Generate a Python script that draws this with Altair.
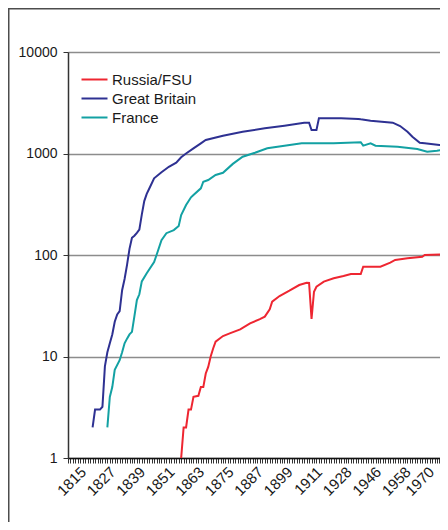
import altair as alt
import pandas as pd

# ---- categories on the x axis (yearly, with the war-time gaps) ----
years = list(range(1815, 1914)) + list(range(1919, 1940)) + list(range(1946, 1991))
tick_labels = [str(y) for y in years[::12]]

series_names = ["Russia/FSU", "Great Britain", "France"]
series_colors = ["#ee2631", "#2e3192", "#13a1a3"]

gb_years = [1825, 1826, 1828, 1829, 1830, 1831, 1832, 1833, 1834, 1835, 1836, 1837, 1838, 1839,
            1840, 1841, 1842, 1843, 1844, 1845, 1846, 1847, 1848, 1850, 1853, 1856, 1859, 1861,
            1863, 1866, 1869, 1871, 1878, 1886, 1895, 1903, 1911, 1913, 1919, 1920, 1921, 1922,
            1931, 1938, 1939, 1949, 1958, 1961, 1964, 1966, 1969, 1971, 1977, 1980, 1981]
gb_values = [2, 3, 3, 3.2, 8, 11, 13.5, 16.5, 22, 26, 28, 45, 58, 80,
             115, 148, 155, 165, 178, 250, 340, 400, 450, 570, 653, 740, 811, 917,
             1000, 1125, 1260, 1358, 1497, 1640, 1770, 1880, 2012, 2012, 1705, 1705, 1705, 2222,
             2222, 2190, 2170, 2105, 2012, 1866, 1640, 1465, 1277, 1260, 1213, 1186, 1180]

fr_years = [1831, 1832, 1833, 1834, 1836, 1837, 1838, 1839, 1840, 1841, 1842, 1843, 1844, 1845,
            1847, 1850, 1851, 1853, 1855, 1858, 1860, 1861, 1863, 1865, 1866, 1869, 1870, 1872,
            1875, 1878, 1882, 1886, 1891, 1896, 1903, 1910, 1913, 1928, 1939, 1946, 1949, 1951,
            1960, 1968, 1972, 1976, 1980, 1981]
fr_values = [2, 4, 5, 7.4, 9.2, 11, 13.5, 15, 16.5, 17.5, 25, 36, 41, 55,
             66, 85, 100, 140, 164, 176, 193, 248, 311, 370, 390, 454, 527, 548,
             614, 645, 790, 930, 1018, 1125, 1195, 1260, 1265, 1260, 1290, 1195, 1260, 1195,
             1167, 1107, 1042, 1067, 1107, 1110]

ru_years = [1861, 1862, 1863, 1864, 1865, 1866, 1868, 1869, 1870, 1871, 1872, 1873, 1874, 1875,
            1878, 1881, 1885, 1889, 1893, 1895, 1897, 1898, 1901, 1905, 1909, 1912, 1913, 1919,
            1920, 1921, 1924, 1928, 1932, 1935, 1939, 1946, 1953, 1957, 1959, 1964, 1970, 1971,
            1980, 1981]
ru_values = [1, 2, 2, 3, 3, 4, 4.1, 5, 5, 6.8, 7.9, 10, 12, 14,
             15.9, 17, 18.5, 21.2, 23.3, 24.7, 29.2, 34.7, 39.4, 44.5, 50.6, 53.3, 53, 23.4,
             43.5, 48.7, 54.6, 58.9, 62.1, 65, 65, 76.7, 76.7, 84, 89.5, 92.8, 96.2, 100,
             102, 102]

rows = []
for name, ys, vs in [("Russia/FSU", ru_years, ru_values),
                     ("Great Britain", gb_years, gb_values),
                     ("France", fr_years, fr_values)]:
    for y, v in zip(ys, vs):
        rows.append({"series": name, "year": y, "idx": years.index(y), "value": v})
df = pd.DataFrame(rows)

PLOT_W = 372
X_MAX = PLOT_W / 2.46
FONT = "Liberation Sans, Arial, sans-serif"

labels_js = "[" + ",".join("'" + t + "'" for t in tick_labels) + "]"
label_expr = "datum.value % 12 == 0 ? " + labels_js + "[datum.value / 12] : ''"

frame = alt.Chart(pd.DataFrame({"k": [0]})).mark_rect(
    fillOpacity=0, stroke="#4d4d4d", strokeWidth=1.5
).encode(
    x=alt.value(-59.25), x2=alt.value(470),
    y=alt.value(-43.25), y2=alt.value(600),
)

lines = alt.Chart(df).mark_line(strokeWidth=2, clip=True).encode(
    x=alt.X("idx:Q",
            scale=alt.Scale(domain=[0, X_MAX], nice=False, zero=False),
            axis=alt.Axis(values=list(range(0, 152)), labelExpr=label_expr,
                          labelAngle=-45, labelAlign="right", labelBaseline="middle",
                          labelOffset={"condition": {"test": "datum.value >= 144", "value": 9},
                                       "value": 15},
                          labelPadding=6, labelFontSize=15,
                          labelOverlap=False, labelFlush=False, labelBound=False,
                          tickSize=5, tickWidth=1, tickColor="#333333",
                          domainColor="#111111", domainWidth=1.5,
                          grid=False, title=None)),
    y=alt.Y("value:Q",
            scale=alt.Scale(type="log", domain=[1, 10000], nice=False),
            axis=alt.Axis(values=[1, 10, 100, 1000, 10000], format="d",
                          labelFontSize=14, labelPadding=6, labelFlush=False,
                          tickSize=5, tickColor="#333333",
                          domainColor="#333333", domainWidth=1.5,
                          grid=True, gridColor="#8c8c8c", gridWidth=1.5,
                          title=None)),
    color=alt.Color("series:N",
                    scale=alt.Scale(domain=series_names, range=series_colors),
                    legend=alt.Legend(orient="none", legendX=19, legendY=20, title=None,
                                      symbolType="M-2.6,0L2.6,0", symbolSize=100,
                                      symbolStrokeWidth=2, labelFontSize=15,
                                      labelOffset=10, rowPadding=3, padding=0,
                                      labelColor="#1a1a1a")),
)

chart = alt.layer(frame, lines).properties(
    width=PLOT_W, height=406,
    padding={"left": 60, "top": 44, "right": 0, "bottom": 64},
    autosize=alt.AutoSizeParams(type="none"),
).configure(font=FONT).configure_axis(
    labelColor="#1a1a1a"
).configure_view(strokeWidth=0)

chart.save("out.html", embed_options={"renderer": "svg", "actions": False})
